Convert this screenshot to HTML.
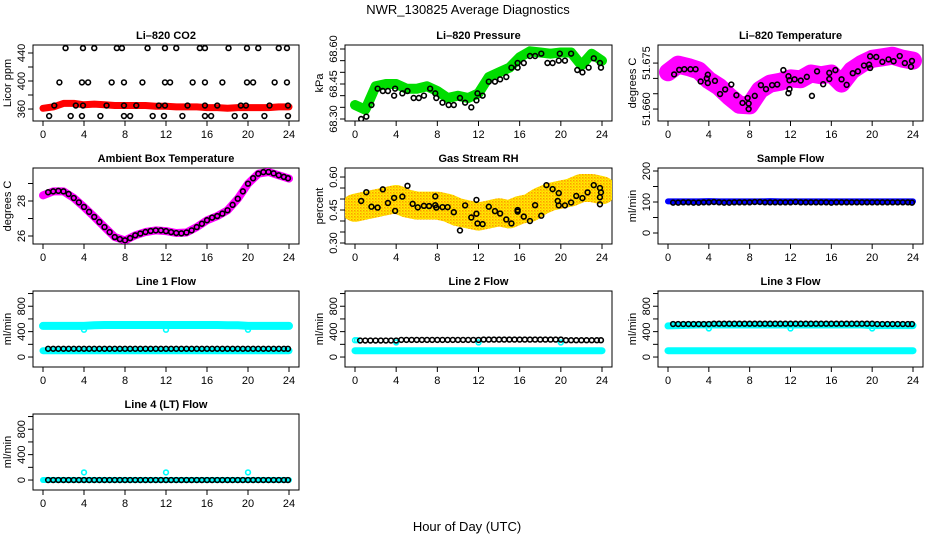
<!DOCTYPE html>
<html><head><meta charset="utf-8"><style>
html,body{margin:0;padding:0;background:#fff;}
svg{display:block;font-family:"Liberation Sans",sans-serif;}
</style></head><body>
<svg id="chart" width="936" height="540" viewBox="0 0 936 540">
<defs>
<pattern id="rhpat" width="3" height="3" patternUnits="userSpaceOnUse">
<rect width="3" height="3" fill="#ffee00"/><rect x="0" y="0" width="1.5" height="1.5" fill="#ff9900"/><rect x="1.5" y="1.5" width="1" height="1" fill="#ff4000" opacity="0.5"/>
</pattern>
</defs>
<text x="468" y="14" font-size="13" text-anchor="middle">NWR_130825  Average Diagnostics</text>
<text x="467" y="531" font-size="13" text-anchor="middle">Hour of Day (UTC)</text>
</svg>
<script>
const hours = [0,1,2,3,4,5,6,7,8,9,10,11,12,13,14,15,16,17,18,19,20,21,22,23,24];
const halfHours = [0.5,1,1.5,2,2.5,3,3.5,4,4.5,5,5.5,6,6.5,7,7.5,8,8.5,9,9.5,10,10.5,11,11.5,12,12.5,13,13.5,14,14.5,15,15.5,16,16.5,17,17.5,18,18.5,19,19.5,20,20.5,21,21.5,22,22.5,23,23.5,23.9];
const xTicks = [0,4,8,12,16,20,24];

const co2Red = [361,363,368,368,366,367,366,365,365,365,365,364,364,363,363,363,362,362,361,362,362,362,362,363,363];
const co2BlackHours = [2.2,3.9,5.0,7.2,7.7,10.2,11.9,13.0,15.3,15.8,18.1,19.9,21.0,23.0,23.8, 1.6,3.8,4.4,6.7,7.9,9.7,11.9,12.4,14.6,15.8,17.5,19.9,20.5,22.6,23.8, 1.1,3.2,3.9,6.2,7.9,9.1,11.3,11.9,14.1,15.8,17.0,19.3,19.8,22.1,23.9, 0.6,2.7,3.8,5.6,7.9,8.5,10.7,11.8,13.6,15.8,16.4,18.7,19.7,21.6,23.9];
const co2BlackVals = [447,447,447,447,447,447,447,447,447,447,447,447,447,447,447, 398,398,398,398,398,398,398,398,398,398,398,398,398,398,398, 365,365,365,365,365,365,365,365,365,365,365,365,365,365,365, 350,350,350,350,350,350,350,350,350,350,350,350,350,350,350];

const presGreen = [68.36,68.34,68.44,68.45,68.45,68.43,68.43,68.44,68.42,68.39,68.40,68.39,68.41,68.48,68.50,68.52,68.565,68.59,68.585,68.58,68.585,68.585,68.53,68.58,68.55];
const presBlackHours = [0.6,1.1,1.6,2.2,2.7,3.2,3.8,3.9,4.6,5.1,5.7,6.2,6.7,7.3,7.8,7.9,8.5,9.1,9.6,10.2,10.7,11.3,11.8,11.9,12.4,13.0,13.6,14.1,14.7,15.2,15.8,15.8,16.4,17.0,17.5,18.1,18.7,19.2,19.8,19.9,20.4,21.0,21.6,22.1,22.7,23.2,23.8,23.9];
const presBlackVals = [68.30,68.31,68.36,68.43,68.42,68.42,68.40,68.43,68.41,68.42,68.39,68.39,68.40,68.43,68.41,68.39,68.37,68.36,68.36,68.39,68.37,68.35,68.38,68.41,68.40,68.46,68.46,68.47,68.48,68.52,68.52,68.54,68.54,68.57,68.57,68.58,68.54,68.54,68.55,68.58,68.55,68.58,68.51,68.50,68.52,68.56,68.54,68.52];

const tempMag = [51.6720,51.6745,51.6737,51.6726,51.6694,51.6673,51.6641,51.6614,51.6612,51.6662,51.6683,51.6689,51.6700,51.6697,51.6716,51.6710,51.6716,51.6683,51.6726,51.6748,51.6764,51.6769,51.6774,51.6764,51.6758];
const tempBlackHours = [0.6,1.1,1.6,2.2,2.7,3.2,3.8,3.9,3.9,4.6,5.1,5.6,6.2,6.7,7.3,7.8,7.9,7.9,8.5,9.1,9.6,10.2,10.7,11.3,11.8,11.9,11.9,11.8,12.4,13.0,13.6,14.1,14.6,15.2,15.8,15.8,16.4,17.0,17.5,18.1,18.6,19.2,19.7,19.8,19.8,20.4,21.0,21.6,22.1,22.7,23.2,23.8,23.9];
const tempBlackVals = [51.6713,51.6728,51.6730,51.6730,51.6730,51.6690,51.6700,51.6712,51.6685,51.6692,51.6649,51.6664,51.6680,51.6645,51.6620,51.6636,51.6618,51.6600,51.6643,51.6678,51.6665,51.6678,51.6680,51.6727,51.6707,51.6694,51.6665,51.6652,51.6697,51.6693,51.6705,51.6643,51.6723,51.6681,51.6698,51.6718,51.6727,51.6697,51.6679,51.6717,51.6723,51.6742,51.6745,51.6734,51.6772,51.6770,51.6754,51.6762,51.6756,51.6773,51.6750,51.6738,51.6757];

const ambMag = [28.32,28.55,28.55,28.17,27.66,27.09,26.51,25.94,25.75,26.04,26.23,26.32,26.28,26.17,26.2,26.51,26.9,27.14,27.47,28.13,28.99,29.56,29.66,29.47,29.28];
const ambBlackHours = [0.5,1,1.5,2,2.5,3,3.5,4,4.5,5,5.5,6,6.5,7,7.5,8,8.5,9,9.5,10,10.5,11,11.5,12,12.5,13,13.5,14,14.5,15,15.5,16,16.5,17,17.5,18,18.5,19,19.5,20,20.5,21,21.5,22,22.5,23,23.5,23.9];
const ambBlackVals = [28.5,28.55,28.58,28.55,28.4,28.17,27.92,27.66,27.38,27.09,26.8,26.51,26.22,25.94,25.82,25.75,25.88,26.04,26.14,26.23,26.29,26.32,26.32,26.28,26.22,26.17,26.15,26.2,26.32,26.51,26.7,26.9,27.05,27.14,27.28,27.47,27.78,28.13,28.55,28.99,29.3,29.56,29.65,29.66,29.58,29.47,29.38,29.3];

const rhBand = [0.46,0.47,0.48,0.49,0.50,0.48,0.47,0.47,0.47,0.46,0.44,0.43,0.42,0.43,0.44,0.43,0.45,0.46,0.49,0.51,0.52,0.53,0.55,0.55,0.54];
const rhBlackHours = [0.6,1.1,1.6,2.2,2.7,3.2,3.8,3.9,4.6,5.1,5.6,6.1,6.7,7.2,7.8,7.9,7.8,8.5,9.0,9.6,10.2,10.7,11.3,11.8,11.8,11.9,12.4,13.0,13.6,14.1,14.7,15.2,15.8,15.8,16.4,17.0,17.5,18.1,18.6,19.2,19.7,19.8,19.8,20.4,21.0,21.5,22.1,22.6,23.2,23.8,23.8,23.9,23.8];
const rhBlackVals = [0.491,0.531,0.465,0.461,0.544,0.482,0.505,0.446,0.511,0.560,0.478,0.462,0.469,0.468,0.472,0.461,0.512,0.463,0.463,0.440,0.357,0.471,0.416,0.433,0.496,0.389,0.386,0.465,0.445,0.434,0.407,0.389,0.450,0.443,0.420,0.400,0.472,0.424,0.563,0.545,0.491,0.471,0.527,0.471,0.484,0.514,0.504,0.530,0.563,0.550,0.508,0.530,0.476];

const sampleBlue = [102,102,102,102,103,102,102,102,102,102,103,102,102,102,102,102,102,102,102,102,102,102,102,102,102];
const sampleBlack = [98,98,99,99,98,98,99,99,100,99,98,98,99,99,99,99,100,100,99,99,99,99,99,99,100,99,99,99,99,99,99,98,99,99,99,99,99,99,99,99,99,99,99,99,99,99,99,98];

const l1CyanHigh = [490,490,490,490,490,500,505,505,505,505,505,505,505,505,505,505,505,505,500,500,490,490,490,490,490];
const l1CyanLow = [100,100,100,100,100,100,100,100,100,100,100,100,100,100,100,100,100,100,100,100,100,100,100,100,100];
const l1Black = [130,130,130,130,130,130,130,130,130,130,130,130,130,130,130,130,130,130,130,130,130,130,130,130,130,130,130,130,130,130,130,130,130,130,130,130,130,130,130,130,130,130,130,130,130,130,130,130];
const l1DipHours = [4,12,20];
const l1DipVals = [430,430,430];

const l2CyanLow = [100,100,100,100,100,100,100,100,100,100,100,100,100,100,100,100,100,100,100,100,100,100,100,100,100];
const l2Black = [260,260,260,260,260,260,260,260,270,270,270,270,270,270,270,270,270,270,270,270,270,270,270,270,275,275,275,275,275,275,275,275,275,275,275,275,275,275,275,275,265,265,265,265,265,265,265,265];
const l2CyanHours = [0,0.2,4,12,20];
const l2CyanVals = [265,265,230,230,230];

const l3CyanHigh = [490,495,500,505,505,505,505,505,505,505,505,505,505,505,505,505,505,505,505,505,495,495,495,495,495];
const l3CyanLow = [100,100,100,100,100,100,100,100,100,100,100,100,100,100,100,100,100,100,100,100,100,100,100,100,100];
const l3Black = [520,520,520,520,520,520,520,520,525,525,525,525,525,525,525,525,525,525,525,525,525,525,525,525,525,525,525,525,525,525,525,525,525,525,525,525,525,525,525,525,520,520,520,520,520,520,520,520];
const l3DipHours = [4,12,20];
const l3DipVals = [450,450,450];

const l4Cyan = [0,0,0,0,0,0,0,0,0,0,0,0,0,0,0,0,0,0,0,0,0,0,0,0,0];
const l4Black = [0,0,0,0,0,0,0,0,0,0,0,0,0,0,0,0,0,0,0,0,0,0,0,0,0,0,0,0,0,0,0,0,0,0,0,0,0,0,0,0,0,0,0,0,0,0,0,0];
const l4DipHours = [4,12,20];
const l4DipVals = [120,120,120];

const NS = 'http://www.w3.org/2000/svg';
const svg = document.getElementById('chart');
const colLeft = [33,345,658], colRight = [299,612,923];
const rowTop = [45,168,291,414], rowBottom = [121,244,367,490];

function el(tag, attrs, parent) {
  const e = document.createElementNS(NS, tag);
  for (const k in attrs) e.setAttribute(k, attrs[k]);
  (parent || svg).appendChild(e);
  return e;
}

function makePanel(col, row, name, title, ylab, ymin, ymax, ticks, labels) {
  const g = el('g', {});
  
  
  const L = colLeft[col], R = colRight[col], T = rowTop[row], B = rowBottom[row];
  const x0 = L + 10, x1 = R - 10;
  const sx = h => x0 + (h / 24) * (x1 - x0);
  const sy = v => B - (v - ymin) / (ymax - ymin) * (B - T);
  const box = el('rect', {x: L, y: T, width: R - L, height: B - T, fill: 'none', stroke: '#000', 'stroke-width': 1}, g);
  
  
  const t = el('text', {x: (L + R) / 2, y: T - 6, 'font-size': 11, 'font-weight': 'bold', 'text-anchor': 'middle'}, g);
  t.textContent = title;
  
  
  const xa = el('g', {}, g);
  
  
  xTicks.forEach(h => {
    el('line', {x1: sx(h), x2: sx(h), y1: B, y2: B + 5, stroke: '#000'}, xa);
    const lb = el('text', {x: sx(h), y: B + 17, 'font-size': 11, 'text-anchor': 'middle'}, xa);
    lb.textContent = h;
    
    
  });
  const ya = el('g', {}, g);
  
  
  ticks.forEach(v => {
    el('line', {x1: L - 5, x2: L, y1: sy(v), y2: sy(v), stroke: '#000'}, ya);
  });
  labels.forEach(s => {
    const v = parseFloat(s);
    const lb = el('text', {x: L - 8, y: sy(v), 'font-size': 11, 'text-anchor': 'middle', transform: 'rotate(-90 ' + (L - 8) + ' ' + sy(v) + ')'}, ya);
    lb.textContent = s;
    
    
  });
  const yl = el('text', {x: L - 22, y: (T + B) / 2, 'font-size': 11, 'text-anchor': 'middle', transform: 'rotate(-90 ' + (L - 22) + ' ' + ((T + B) / 2) + ')'}, g);
  yl.textContent = ylab;
  
  
  const clipId = 'clip-' + name;
  const cp = el('clipPath', {id: clipId}, g);
  el('rect', {x: L, y: T, width: R - L, height: B - T}, cp);
  const plot = el('g', {'clip-path': 'url(#' + clipId + ')'}, g);
  return {g: plot, sx, sy};
}

function band(p, xs, ys, color, w, name) {
  const pts = xs.map((h, i) => p.sx(h).toFixed(1) + ',' + p.sy(ys[i]).toFixed(1)).join(' ');
  const pl = el('polyline', {points: pts, fill: 'none', stroke: color, 'stroke-width': w, 'stroke-linejoin': 'round', 'stroke-linecap': 'round'}, p.g);
  
  
}
function dots(p, xs, ys, color, name) {
  xs.forEach((h, i) => {
    const c = el('circle', {cx: p.sx(h), cy: p.sy(ys[i]), r: 2.4, fill: 'none', stroke: color, 'stroke-width': 1.6}, p.g);
    
    
  });
}

let p;
p = makePanel(0, 0, 'co2', 'Li\u2013820 CO2', 'Licor ppm', 342.9, 451.4, [360,380,400,420,440], ['360','400','440']);
band(p, hours, co2Red, '#ff0000', 7, 'co2-red-series');
dots(p, co2BlackHours, co2BlackVals, '#000', 'co2-black-point');

p = makePanel(1, 0, 'pressure', 'Li\u2013820 Pressure', 'kPa', 68.2914, 68.6171, [68.30,68.35,68.40,68.45,68.50,68.55,68.60], ['68.30','68.45','68.60']);
band(p, hours, presGreen, '#00dd00', 10, 'pressure-green-series');
dots(p, presBlackHours, presBlackVals, '#000', 'pressure-black-point');

p = makePanel(2, 0, 'temperature', 'Li\u2013820 Temperature', 'degrees C', 51.6561, 51.6809, [51.660,51.665,51.670,51.675], ['51.660','51.675']);
band(p, hours, tempMag, '#ff00ff', 18, 'temperature-magenta-series');
dots(p, tempBlackHours, tempBlackVals, '#000', 'temperature-black-point');

p = makePanel(0, 1, 'ambient', 'Ambient Box Temperature', 'degrees C', 25.543, 29.886, [26,27,28,29], ['26','28']);
band(p, hours, ambMag, '#ff00ff', 8, 'ambient-magenta-series');
dots(p, ambBlackHours, ambBlackVals, '#000', 'ambient-black-point');

p = makePanel(1, 1, 'rh', 'Gas Stream RH', 'percent', 0.2955, 0.641, [0.30,0.35,0.40,0.45,0.50,0.55,0.60], ['0.30','0.45','0.60']);
band(p, hours, rhBand, 'url(#rhpat)', 28, 'rh-orange-series');
dots(p, rhBlackHours, rhBlackVals, '#000', 'rh-black-point');

p = makePanel(2, 1, 'sample-flow', 'Sample Flow', 'ml/min', -35.5, 209.7, [0,50,100,150,200], ['0','100','200']);
band(p, hours, sampleBlue, '#0000ff', 6, 'sample-flow-blue-series');
dots(p, halfHours, sampleBlack, '#000', 'sample-flow-black-point');

const flowTicks = [0,200,400,600,800,1000];
const flowLabels = ['0','400','800'];
p = makePanel(0, 2, 'line1', 'Line 1 Flow', 'ml/min', -157, 1040, flowTicks, flowLabels);
band(p, hours, l1CyanHigh, '#00ffff', 8, 'line1-cyan-high-series');
band(p, hours, l1CyanLow, '#00ffff', 7, 'line1-cyan-low-series');
dots(p, l1DipHours, l1DipVals, '#00ffff', 'line1-cyan-point');
dots(p, halfHours, l1Black, '#000', 'line1-black-point');

p = makePanel(1, 2, 'line2', 'Line 2 Flow', 'ml/min', -157, 1040, flowTicks, flowLabels);
band(p, hours, l2CyanLow, '#00ffff', 7, 'line2-cyan-low-series');
dots(p, l2CyanHours, l2CyanVals, '#00ffff', 'line2-cyan-point');
dots(p, halfHours, l2Black, '#000', 'line2-black-point');

p = makePanel(2, 2, 'line3', 'Line 3 Flow', 'ml/min', -157, 1040, flowTicks, flowLabels);
band(p, hours, l3CyanHigh, '#00ffff', 7, 'line3-cyan-high-series');
band(p, hours, l3CyanLow, '#00ffff', 7, 'line3-cyan-low-series');
dots(p, l3DipHours, l3DipVals, '#00ffff', 'line3-cyan-point');
dots(p, halfHours, l3Black, '#000', 'line3-black-point');

p = makePanel(0, 3, 'line4', 'Line 4 (LT) Flow', 'ml/min', -157, 1040, flowTicks, flowLabels);
band(p, hours, l4Cyan, '#00ffff', 6, 'line4-cyan-series');
dots(p, l4DipHours, l4DipVals, '#00ffff', 'line4-cyan-point');
dots(p, halfHours, l4Black, '#000', 'line4-black-point');
</script>
</body></html>
